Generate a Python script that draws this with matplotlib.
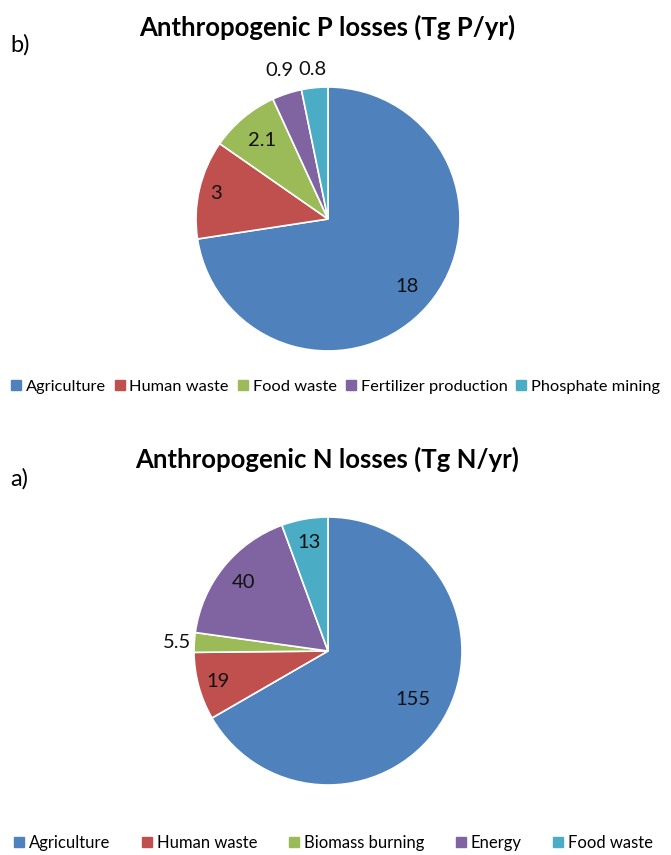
import numpy as np
import matplotlib
matplotlib.use("Agg")
import matplotlib.pyplot as plt
from matplotlib.patches import Patch

plt.rcParams['font.family'] = ['Lato', 'DejaVu Sans']

# --- data -------------------------------------------------------------
p_labels = ["Agriculture", "Human waste", "Food waste",
            "Fertilizer production", "Phosphate mining"]
p_values = [18, 3, 2.1, 0.9, 0.8]
p_text = ["18", "3", "2.1", "0.9", "0.8"]

n_labels = ["Agriculture", "Human waste", "Biomass burning", "Energy", "Food waste"]
n_values = [155, 19, 5.5, 40, 13]
n_text = ["155", "19", "5.5", "40", "13"]

colors = ["#4F81BD", "#C0504D", "#9BBB59", "#8064A2", "#4BACC6"]

W, H = 671, 855
fig = plt.figure(figsize=(W / 100, H / 100), dpi=100)


def pie_axes(cx, cy, r):
    # cx, cy, r in pixels from top-left
    return fig.add_axes([(cx - r) / W, (H - cy - r) / H, 2 * r / W, 2 * r / H])


def draw_pie(ax, values, texts, dists):
    wedges, _ = ax.pie(values, colors=colors, startangle=90, counterclock=False,
                       wedgeprops=dict(edgecolor="white", linewidth=1.2))
    for w, t, d in zip(wedges, texts, dists):
        ang = np.deg2rad((w.theta1 + w.theta2) / 2)
        ha = "center"
        if d > 1.0 and abs(np.cos(ang)) > 0.9:
            ha = "right"
        ax.text(d * np.cos(ang), d * np.sin(ang), t, ha=ha, va="center",
                fontsize=14.5, color="#111111")
    ax.set_xlim(-1, 1)
    ax.set_ylim(-1, 1)
    ax.set_aspect("auto")


# top: P
ax1 = pie_axes(328, 219, 132)
draw_pie(ax1, p_values, p_text, [0.79, 0.87, 0.78, 1.18, 1.14])
fig.text(327 / W, 1 - 36 / H, "Anthropogenic P losses (Tg P/yr)",
         ha="center", va="baseline", fontsize=18.5, fontweight="bold")
fig.text(10 / W, 1 - 52 / H, "b)", ha="left", va="baseline", fontsize=17)
fig.legend(handles=[Patch(color=c, label=l) for c, l in zip(colors, p_labels)],
           loc="center", bbox_to_anchor=(0.5, 1 - 387 / H), ncol=5,
           frameon=False, fontsize=11.8, handlelength=0.6, handleheight=0.6,
           handletextpad=0.3, columnspacing=0.55, borderpad=0.1)

# bottom: N
ax2 = pie_axes(328, 651, 134)
draw_pie(ax2, n_values, n_text, [0.73, 0.85, 1.02, 0.81, 0.82])
fig.text(327 / W, 1 - 468 / H, "Anthropogenic N losses (Tg N/yr)",
         ha="center", va="baseline", fontsize=18.5, fontweight="bold")
fig.text(10 / W, 1 - 486 / H, "a)", ha="left", va="baseline", fontsize=17)
fig.legend(handles=[Patch(color=c, label=l) for c, l in zip(colors, n_labels)],
           loc="center", bbox_to_anchor=(0.497, 1 - 843 / H), ncol=5,
           frameon=False, fontsize=12, handlelength=0.6, handleheight=0.6,
           handletextpad=0.3, columnspacing=1.9)

fig.savefig("out.png", dpi=100)
